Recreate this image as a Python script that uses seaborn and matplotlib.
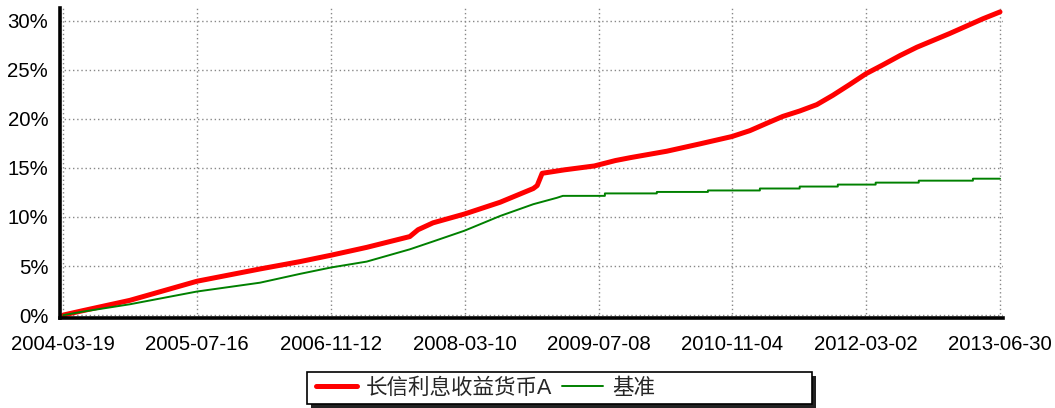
import pandas as pd
import numpy as np
import matplotlib
matplotlib.use('Agg')
import matplotlib.pyplot as plt
import matplotlib.dates as mdates
from matplotlib.patches import Rectangle
from matplotlib.ticker import FuncFormatter, MultipleLocator, FixedLocator
import seaborn as sns

# values (cumulative return, %)
fund_dates = ['2004-03-19', '2004-05-29', '2004-11-15', '2005-07-16', '2006-03-01',
              '2006-07-24', '2006-11-13', '2007-03-22', '2007-08-25', '2007-09-24',
              '2007-11-17', '2008-03-10', '2008-07-17', '2008-11-14', '2008-11-28',
              '2008-12-16', '2009-03-06', '2009-06-23', '2009-09-07', '2009-11-01',
              '2010-03-12', '2010-07-10', '2010-11-03', '2011-01-07', '2011-03-09',
              '2011-05-06', '2011-07-06', '2011-09-06', '2011-11-03', '2012-01-03',
              '2012-03-02', '2012-05-02', '2012-07-03', '2012-09-02', '2012-12-30',
              '2013-04-29', '2013-06-30']
fund_values = [0.0, 0.45, 1.5, 3.45, 4.7,
               5.45, 6.1, 6.9, 8.0, 8.7,
               9.4, 10.3, 11.5, 12.9, 13.2,
               14.45, 14.8, 15.2, 15.75, 16.05,
               16.7, 17.45, 18.2, 18.8, 19.55,
               20.25, 20.8, 21.45, 22.4, 23.5,
               24.6, 25.5, 26.45, 27.3, 28.7,
               30.2, 30.9]

bench_dates = ['2004-03-19', '2004-05-29', '2004-11-15', '2005-07-16', '2006-03-01',
               '2006-07-24', '2006-11-13', '2007-03-22', '2007-08-25', '2007-11-17',
               '2008-03-10', '2008-07-17', '2008-11-14', '2009-02-07', '2009-03-01',
               '2009-07-31', '2009-07-31', '2010-02-04', '2010-02-04', '2010-08-08',
               '2010-08-08', '2011-02-12', '2011-02-12', '2011-07-06', '2011-07-06',
               '2011-11-21', '2011-11-21', '2012-04-06', '2012-04-06', '2012-09-09',
               '2012-09-09', '2013-03-24', '2013-03-24', '2013-06-30']
bench_values = [0.0, 0.35, 1.1, 2.4, 3.3,
                4.2, 4.85, 5.45, 6.7, 7.5,
                8.6, 10.1, 11.3, 11.95, 12.15,
                12.15, 12.4, 12.4, 12.55, 12.55,
                12.7, 12.7, 12.9, 12.9, 13.1,
                13.1, 13.3, 13.3, 13.5, 13.5,
                13.7, 13.7, 13.9, 13.9]

tick_labels = ['2004-03-19', '2005-07-16', '2006-11-12', '2008-03-10',
               '2009-07-08', '2010-11-04', '2012-03-02', '2013-06-30']
series_names = ['长信利息收益货币A', '基准']

fund = pd.DataFrame({'date': pd.to_datetime(fund_dates), 'value': fund_values})
bench = pd.DataFrame({'date': pd.to_datetime(bench_dates), 'value': bench_values})

sns.set_style('white')
plt.rcParams['font.family'] = ['Liberation Sans', 'Noto Sans CJK SC', 'DejaVu Sans']

W, H = 1055, 408
fig = plt.figure(figsize=(W / 100, H / 100), dpi=100)
ax = fig.add_axes([60 / W, 90 / H, 943 / W, 310 / H])

sns.lineplot(data=fund, x='date', y='value', color='#ff0000', linewidth=3.6,
             estimator=None, sort=False, ax=ax, label=series_names[0])
sns.lineplot(data=bench, x='date', y='value', color='#008000', linewidth=1.4,
             estimator=None, sort=False, ax=ax, label=series_names[1])

tick_nums = mdates.date2num(pd.to_datetime(tick_labels))
minor_nums = []
for a, b in zip(tick_nums[:-1], tick_nums[1:]):
    minor_nums += [a + (b - a) * k / 4 for k in (1, 2, 3)]

day = (tick_nums[-1] - tick_nums[0]) / 936.7
ax.set_xlim(tick_nums[0] - 3.3 * day, tick_nums[-1] + 3 * day)
ax.set_ylim(-0.3, 31.3)
ax.xaxis.set_major_locator(FixedLocator(tick_nums))
ax.xaxis.set_minor_locator(FixedLocator(minor_nums))
ax.set_xticklabels(tick_labels)
ax.yaxis.set_major_locator(MultipleLocator(5))
ax.yaxis.set_minor_locator(MultipleLocator(1))
ax.yaxis.set_major_formatter(FuncFormatter(lambda v, p: f'{v:.0f}%'))

ax.grid(True, which='major', linestyle=(0, (1, 2)), color='#888888', linewidth=1)
ax.set_xlabel('')
ax.set_ylabel('')
sns.despine(ax=ax, top=True, right=True)
for side in ('left', 'bottom'):
    ax.spines[side].set_linewidth(2.6)
    ax.spines[side].set_color('black')

ax.tick_params(axis='both', which='both', direction='out', color='#666666',
               width=1, labelsize=14.7, labelcolor='black')
ax.tick_params(axis='both', which='major', length=5.5, pad=3)
ax.tick_params(axis='both', which='minor', length=4.5)
ax.tick_params(axis='x', which='major', pad=6.5)

# legend box with a hard black shadow, wider than its entries
fig.patches.append(Rectangle((311 / W, 0), 505 / W, 32 / H, transform=fig.transFigure,
                             facecolor='#222222', edgecolor='none', zorder=0))
fig.patches.append(Rectangle((307 / W, 4 / H), 505 / W, 32 / H, transform=fig.transFigure,
                             facecolor='white', edgecolor='black', linewidth=1.2, zorder=1))

ax.get_legend().remove()
leg = fig.legend(loc='center left', bbox_to_anchor=(316 / W, 20 / H), ncol=2,
                 frameon=False, fontsize=15.5, handlelength=1.9, columnspacing=0.45,
                 handletextpad=0.42, borderpad=0, borderaxespad=0)
leg.set_zorder(2)

plt.savefig('out.png', dpi=100)
